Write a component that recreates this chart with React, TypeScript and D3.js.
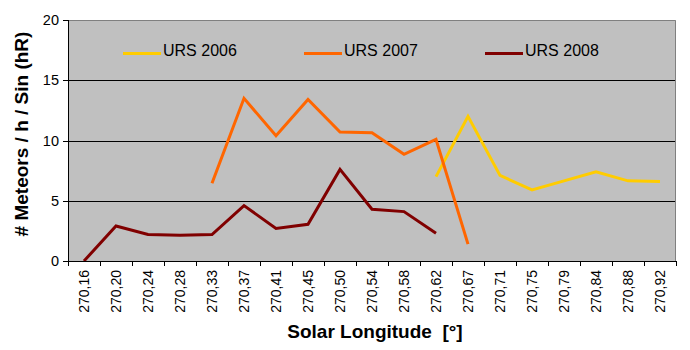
import React, { useRef, useEffect } from 'react';
import * as d3 from 'd3';

// Solar longitude categories (x axis)
const categories = [
  '270,16', '270,20', '270,24', '270,28', '270,33', '270,37', '270,41', '270,45', '270,50', '270,54',
  '270,58', '270,62', '270,67', '270,71', '270,75', '270,79', '270,84', '270,88', '270,92',
];

// null = no observation for that longitude
const urs2006: (number | null)[] = [
  null, null, null, null, null, null, null, null, null, null,
  null, 7.0, 12.0, 7.1, 5.9, 6.65, 7.4, 6.65, 6.6,
];
const urs2007: (number | null)[] = [
  null, null, null, null, 6.45, 13.5, 10.4, 13.4, 10.7, 10.65,
  8.85, 10.1, 1.4, null, null, null, null, null, null,
];
const urs2008: (number | null)[] = [
  0, 2.9, 2.2, 2.13, 2.2, 4.6, 2.7, 3.05, 7.6, 4.3,
  4.1, 2.3, null, null, null, null, null, null, null,
];

const seriesNames = ['URS 2006', 'URS 2007', 'URS 2008'];
const seriesColors = ['#FFCC00', '#FF6600', '#800000'];
const yTicks = [0, 5, 10, 15, 20];

const App = () => {
  const svgRef = useRef<SVGSVGElement>(null);

  useEffect(() => {
    const svg = d3.select(svgRef.current);
    svg.selectAll('*').remove();

    const W = 690, H = 350;
    const margin = { top: 20, right: 14, bottom: 89, left: 68 };
    const width = W - margin.left - margin.right;
    const height = H - margin.top - margin.bottom;
    const font = '"Liberation Sans", Arial, sans-serif';

    svg.append('rect').attr('width', W).attr('height', H).attr('fill', '#fff');

    const g = svg.append('g').attr('transform', `translate(${margin.left},${margin.top})`);

    const x = d3.scaleBand().domain(categories).range([0, width]);
    const y = d3.scaleLinear().domain([0, 20]).range([height, 0]);

    // plot area
    g.append('rect')
      .attr('width', width)
      .attr('height', height)
      .attr('fill', '#C0C0C0');

    // gridlines
    g.selectAll('line.grid')
      .data(yTicks.filter(t => t > 0 && t < 20))
      .join('line')
      .attr('x1', 0)
      .attr('x2', width)
      .attr('y1', d => Math.round(y(d)) + 0.5)
      .attr('y2', d => Math.round(y(d)) + 0.5)
      .attr('stroke', '#000');

    // top & right border
    g.append('path')
      .attr('d', `M0,0.5H${width - 0.5}V${height}`)
      .attr('fill', 'none')
      .attr('stroke', '#808080');

    // series lines
    const all = [urs2006, urs2007, urs2008];
    const line = d3.line<number | null>()
      .defined(d => d != null)
      .x((d, i) => (x(categories[i]) as number) + x.bandwidth() / 2)
      .y(d => y(d as number));

    all.forEach((data, i) => {
      g.append('path')
        .datum(data)
        .attr('d', line)
        .attr('fill', 'none')
        .attr('stroke', seriesColors[i])
        .attr('stroke-width', 3)
        .attr('stroke-linejoin', 'miter');
    });

    // y axis
    const yAxis = g.append('g');
    yAxis.append('line')
      .attr('x1', 0.5).attr('x2', 0.5).attr('y1', 0).attr('y2', height)
      .attr('stroke', '#000');
    yAxis.selectAll('line.tick')
      .data(yTicks)
      .join('line')
      .attr('x1', -5).attr('x2', 0)
      .attr('y1', d => Math.round(y(d)) + 0.5)
      .attr('y2', d => Math.round(y(d)) + 0.5)
      .attr('stroke', '#000');
    yAxis.selectAll('text')
      .data(yTicks)
      .join('text')
      .attr('x', -9)
      .attr('y', d => y(d))
      .attr('dy', '0.36em')
      .attr('text-anchor', 'end')
      .style('font-family', font)
      .style('font-size', '14.5px')
      .text(d => d);

    // x axis
    const xAxis = g.append('g').attr('transform', `translate(0,${height})`);
    xAxis.append('line')
      .attr('x1', 0).attr('x2', width).attr('y1', 0.5).attr('y2', 0.5)
      .attr('stroke', '#000');
    xAxis.selectAll('line.tick')
      .data(d3.range(categories.length + 1))
      .join('line')
      .attr('x1', i => Math.round(i * x.step()) + 0.5)
      .attr('x2', i => Math.round(i * x.step()) + 0.5)
      .attr('y1', 0).attr('y2', 5)
      .attr('stroke', '#000');
    xAxis.selectAll('text')
      .data(categories)
      .join('text')
      .attr('transform', d => `translate(${(x(d) as number) + x.bandwidth() / 2},9) rotate(-90)`)
      .attr('dy', '0.36em')
      .attr('text-anchor', 'end')
      .style('font-family', font)
      .style('font-size', '14px')
      .text(d => d);

    // legend
    const legendX = [123, 304, 485];
    seriesNames.forEach((name, i) => {
      svg.append('line')
        .attr('x1', legendX[i]).attr('x2', legendX[i] + 38)
        .attr('y1', 53.5).attr('y2', 53.5)
        .attr('stroke', seriesColors[i])
        .attr('stroke-width', 3);
      svg.append('text')
        .attr('x', legendX[i] + 40)
        .attr('y', 56)
        .style('font-family', font)
        .style('font-size', '16px')
        .text(name);
    });

    // axis titles
    svg.append('text')
      .attr('transform', 'translate(28,134) rotate(-90)')
      .attr('text-anchor', 'middle')
      .style('font-family', font)
      .style('font-size', '19px')
      .style('font-weight', 'bold')
      .text('# Meteors / h / Sin (hR)');

    svg.append('text')
      .attr('x', 375)
      .attr('y', 338)
      .attr('text-anchor', 'middle')
      .style('font-family', font)
      .style('font-size', '19px')
      .style('font-weight', 'bold')
      .style('white-space', 'pre')
      .text('Solar Longitude  [°]');
  }, []);

  return (
    <svg
      ref={svgRef}
      width={690}
      height={350}
      style={{ position: 'absolute', left: 0, top: 0, display: 'block' }}
    />
  );
};

export default App;
